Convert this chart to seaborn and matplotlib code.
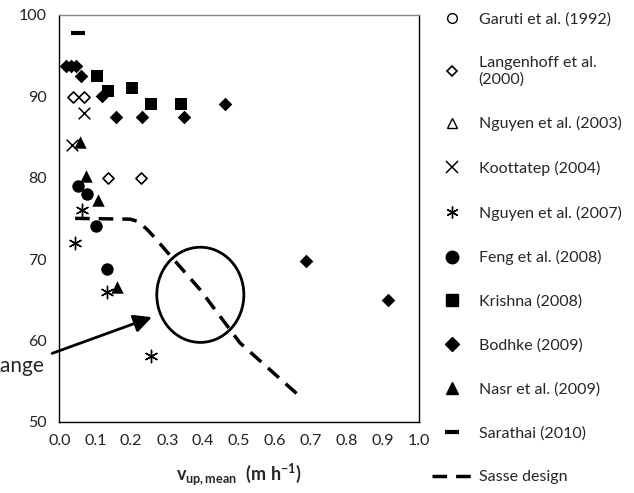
import matplotlib
matplotlib.use("Agg")
import matplotlib.pyplot as plt
import seaborn as sns
import numpy as np
import pandas as pd
from matplotlib.patches import Ellipse
from matplotlib.lines import Line2D

# ---------------- data ----------------
garuti_x, garuti_y = [], []
langenhoff_x = [0.039, 0.069, 0.136, 0.227]
langenhoff_y = [89.9, 89.9, 79.9, 79.9]
nguyen2003_x, nguyen2003_y = [], []
koottatep_x = [0.069, 0.036]
koottatep_y = [87.9, 84.0]
nguyen2007_x = [0.064, 0.044, 0.132, 0.254]
nguyen2007_y = [76.0, 72.0, 66.0, 58.1]
feng_x = [0.051, 0.078, 0.101, 0.134]
feng_y = [79.0, 78.0, 74.0, 68.8]
krishna_x = [0.104, 0.136, 0.203, 0.254, 0.337]
krishna_y = [92.5, 90.6, 91.0, 89.0, 89.0]
bodhke_x = [0.020, 0.033, 0.047, 0.060, 0.118, 0.157, 0.231, 0.346, 0.460, 0.687, 0.914]
bodhke_y = [93.7, 93.7, 93.7, 92.5, 90.0, 87.4, 87.4, 87.4, 89.0, 69.7, 65.0]
nasr_x = [0.057, 0.074, 0.108, 0.161]
nasr_y = [84.4, 80.2, 77.2, 66.5]
sarathai_x = [0.053]
sarathai_y = [97.8]
sasse_x = [0.044, 0.197, 0.22, 0.245, 0.27, 0.299, 0.392, 0.502, 0.608, 0.669]
sasse_y = [75.0, 74.9, 74.6, 73.6, 72.4, 70.9, 66.2, 59.7, 55.5, 53.1]

labels = ["Garuti et al. (1992)", "Langenhoff et al.\n(2000)", "Nguyen et al. (2003)",
          "Koottatep (2004)", "Nguyen et al. (2007)", "Feng et al. (2008)",
          "Krishna (2008)", "Bodhke (2009)", "Nasr et al. (2009)", "Sarathai (2010)",
          "Sasse design"]
xticks = [0.0, 0.1, 0.2, 0.3, 0.4, 0.5, 0.6, 0.7, 0.8, 0.9, 1.0]
yticks = [50, 60, 70, 80, 90, 100]

# ---------------- style ----------------
sns.set_theme(style="white")
plt.rcParams['font.family'] = ['Lato', 'DejaVu Sans']
plt.rcParams['mathtext.fontset'] = 'custom'
plt.rcParams['mathtext.rm'] = 'Lato'
plt.rcParams['mathtext.bf'] = 'Lato:bold'
plt.rcParams['mathtext.it'] = 'Lato:italic'

fig = plt.figure(figsize=(6.34, 4.93), dpi=100)
ax = fig.add_axes([0.0935, 0.1446, 0.5675, 0.825])

K = 'black'
specs = [
    (garuti_x, garuti_y, 'o', 45, 'white', 1.0),
    (langenhoff_x, langenhoff_y, 'D', 32, 'white', 1.2),
    (nguyen2003_x, nguyen2003_y, '^', 50, 'white', 1.0),
    (koottatep_x, koottatep_y, 'x', 70, K, 1.1),
    (nguyen2007_x, nguyen2007_y, (6, 2, 0), 80, K, 1.0),
    (feng_x, feng_y, 'o', 80, K, 0),
    (krishna_x, krishna_y, 's', 85, K, 0),
    (bodhke_x, bodhke_y, 'D', 48, K, 0),
    (nasr_x, nasr_y, '^', 80, K, 0),
]
for x, y, m, s, fc, lw in specs:
    if len(x) == 0:
        continue
    df = pd.DataFrame({'x': x, 'y': y})
    if m in ('x',) or isinstance(m, tuple):
        sns.scatterplot(data=df, x='x', y='y', marker=m, s=s, color=K,
                        linewidth=lw, ax=ax, legend=False, zorder=3)
    else:
        sns.scatterplot(data=df, x='x', y='y', marker=m, s=s, facecolor=fc,
                        edgecolor=K, linewidth=lw, ax=ax, legend=False, zorder=3)

sns.scatterplot(x=sarathai_x, y=sarathai_y, marker='_', s=110, color=K,
                linewidth=3, ax=ax, legend=False, zorder=3)

sns.lineplot(x=sasse_x, y=sasse_y, sort=False, color=K, lw=2.5,
             linestyle=(0, (4.2, 2.6)), ax=ax, legend=False, zorder=2)

ax.add_patch(Ellipse((0.392, 65.6), 0.242, 11.7, fill=False, edgecolor=K, lw=2, zorder=2))

ax.annotate("", xy=(0.2575, 62.85), xytext=(-0.02, 58.4),
            xycoords='data', textcoords='data', annotation_clip=False,
            arrowprops=dict(arrowstyle='-|>,head_length=0.9,head_width=0.45',
                            color=K, lw=2, shrinkA=0, shrinkB=0))
fig.text(44 / 634, 1 - 366 / 493, "Range", ha='right', va='center', fontsize=15)

ax.set_xlim(0, 1.0)
ax.set_ylim(50, 100)
ax.set_xticks(xticks)
ax.set_xticklabels([f"{v:.1f}" for v in xticks])
ax.set_yticks(yticks)
ax.tick_params(axis='x', direction='in', length=4, width=1, labelsize=11.5, pad=9, colors=K)
ax.tick_params(axis='y', direction='out', length=5, width=1, labelsize=11.5, pad=4, colors=K)
ax.tick_params(axis='both', labelcolor='#222222')
for side in ['left', 'bottom', 'right']:
    ax.spines[side].set_color(K)
    ax.spines[side].set_linewidth(1)
ax.spines['top'].set_color('#888888')
ax.spines['top'].set_linewidth(1)

ax.set_xlabel(r'$\mathbf{v_{up,mean}}$  $\mathbf{(m\ h^{-1})}$', fontsize=13, labelpad=10)
ax.set_ylabel('')

handles = [
    Line2D([], [], marker='o', ls='none', mfc='white', mec=K, ms=7, mew=1.0),
    Line2D([], [], marker='D', ls='none', mfc='white', mec=K, ms=5.5, mew=1.2),
    Line2D([], [], marker='^', ls='none', mfc='white', mec=K, ms=7, mew=1.0),
    Line2D([], [], marker='x', ls='none', color=K, ms=8, mew=1.1),
    Line2D([], [], marker=(6, 2, 0), ls='none', color=K, ms=8.5, mew=1.0),
    Line2D([], [], marker='o', ls='none', color=K, ms=9),
    Line2D([], [], marker='s', ls='none', color=K, ms=9),
    Line2D([], [], marker='D', ls='none', color=K, ms=7),
    Line2D([], [], marker='^', ls='none', color=K, ms=9),
    Line2D([], [], marker='_', ls='none', color=K, ms=10, mew=3),
    Line2D([], [], ls=(0, (4.2, 2.6)), color=K, lw=2.5),
]
fig.legend(handles, labels, loc='upper left', bbox_to_anchor=(429 / 634, 1 - 9 / 493),
           frameon=False, fontsize=11.5, labelspacing=1.85, handlelength=2.5,
           handletextpad=0.4, borderaxespad=0, borderpad=0.2)

fig.savefig("out.png", dpi=100)
